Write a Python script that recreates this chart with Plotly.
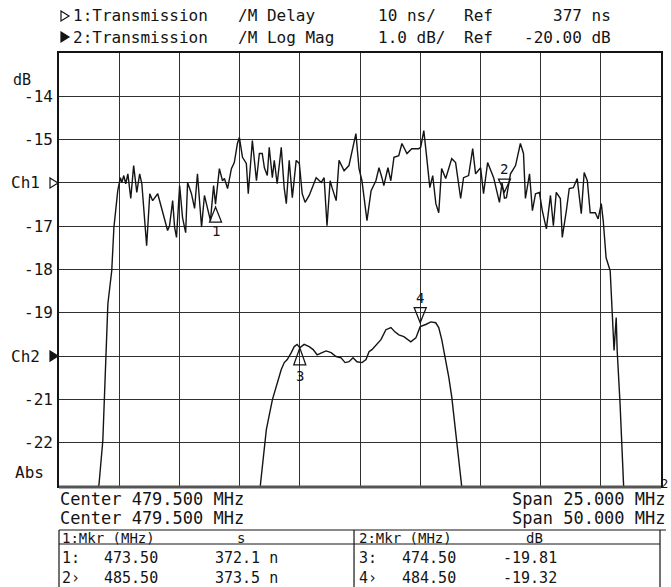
import plotly.graph_objects as go

# ---------------- data ----------------
# Channel 1: Transmission /M Delay (ns), span 25 MHz around 479.5 MHz
ch1_freq_mhz = [468.50, 468.66, 468.82, 468.95, 469.03, 469.19, 469.28, 469.44, 469.55, 469.61,
                469.69, 469.77, 469.86, 469.98, 470.10, 470.23, 470.35, 470.44, 470.52, 470.64,
                470.77, 470.89, 471.10, 471.26, 471.39, 471.51, 471.59, 471.72, 471.80, 471.88,
                472.01, 472.13, 472.26, 472.34, 472.50, 472.63, 472.75, 472.92, 473.04, 473.17,
                473.29, 473.42, 473.50, 473.66, 473.79, 473.87, 474.00, 474.16, 474.28, 474.41,
                474.49, 474.62, 474.78, 474.86, 475.03, 475.20, 475.32, 475.44, 475.53, 475.65,
                475.73, 475.86, 475.94, 476.06, 476.23, 476.35, 476.44, 476.56, 476.69, 476.85,
                476.98, 477.10, 477.22, 477.39, 477.68, 477.89, 478.01, 478.13, 478.26, 478.34,
                478.51, 478.63, 478.84, 479.04, 479.25, 479.33, 479.46, 479.58, 479.79, 479.96,
                480.16, 480.29, 480.41, 480.49, 480.66, 480.78, 480.91, 481.11, 481.24, 481.45,
                481.65, 481.94, 482.02, 482.15, 482.27, 482.40, 482.52, 482.65, 482.77, 482.89,
                483.06, 483.31, 483.47, 483.68, 483.80, 484.01, 484.18, 484.30, 484.51, 484.63,
                484.80, 485.05, 485.29, 485.40, 485.50, 485.58, 485.75, 485.96, 486.16, 486.29,
                486.37, 486.54, 486.66, 486.79, 486.95, 487.07, 487.24, 487.41, 487.53, 487.65,
                487.82, 487.90, 488.07, 488.19, 488.36, 488.52, 488.69, 488.81, 488.94, 489.06,
                489.27, 489.39, 489.52, 489.60, 489.72, 489.89, 489.97, 490.05, 490.14, 490.18,
                490.30, 490.43, 490.51]
ch1_delay_ns = [305.0, 307.3, 317.5, 336.7, 349.1, 356.7, 366.7, 375.2, 378.2, 377.1,
                378.7, 376.8, 379.1, 373.4, 381.0, 374.8, 379.1, 376.8, 371.3, 362.5,
                374.5, 372.9, 374.5, 371.3, 368.3, 366.0, 367.1, 372.9, 366.8, 364.4,
                376.4, 369.0, 365.5, 377.1, 374.5, 371.1, 379.1, 366.8, 374.1, 371.3,
                368.3, 376.4, 372.1, 380.3, 377.5, 378.0, 375.7, 380.3, 381.7, 386.1,
                387.5, 382.9, 381.5, 374.5, 386.8, 377.5, 383.8, 383.8, 380.5, 378.7,
                385.2, 378.2, 382.2, 376.8, 385.2, 375.9, 372.2, 382.2, 373.6, 382.2,
                381.5, 374.5, 372.5, 374.1, 378.2, 377.1, 378.2, 367.1, 377.5, 375.9,
                372.9, 382.2, 379.8, 381.0, 386.1, 388.4, 380.3, 377.5, 368.3, 375.2,
                377.5, 380.5, 378.2, 376.4, 380.5, 377.5, 382.9, 383.3, 386.1, 383.8,
                384.9, 384.9, 385.2, 389.1, 382.9, 375.9, 378.7, 372.2, 370.1, 380.3,
                378.0, 382.6, 381.7, 373.4, 378.2, 378.7, 384.9, 379.1, 380.5, 374.5,
                381.7, 378.2, 372.5, 377.0, 373.5, 373.6, 379.1, 381.0, 386.1, 383.8,
                373.4, 379.1, 370.6, 374.5, 374.8, 370.6, 366.4, 374.1, 367.1, 374.8,
                373.4, 364.4, 370.6, 375.7, 375.9, 378.0, 369.9, 379.4, 377.5, 370.1,
                370.1, 368.7, 372.2, 368.3, 359.7, 356.7, 347.5, 338.3, 345.9, 338.3,
                326.0, 306.7, 299.0]

# Channel 2: Transmission /M Log Mag (dB), span 50 MHz around 479.5 MHz
ch2_freq_mhz = [471.14, 471.72, 472.22, 472.63, 472.96, 473.21, 473.46, 473.79, 474.04, 474.28,
                474.50, 474.86, 475.28, 475.61, 475.94, 476.35, 476.69, 477.10, 477.51, 477.93,
                478.26, 478.59, 478.92, 479.25, 479.67, 480.00, 480.25, 480.49, 480.82, 481.24,
                481.65, 482.07, 482.40, 482.73, 483.14, 483.72, 484.14, 484.50, 484.96, 485.38,
                485.79, 486.04, 486.29, 486.62, 486.87, 487.12, 487.45, 487.70, 487.94, 488.11]
ch2_logmag_db = [-23.20, -21.70, -21.01, -20.61, -20.31, -20.15, -20.08, -19.92, -19.78, -19.73,
                 -19.81, -19.73, -19.78, -19.85, -19.97, -19.92, -19.88, -19.92, -20.01, -20.04,
                 -20.15, -20.13, -20.04, -20.13, -20.15, -20.08, -19.90, -19.85, -19.74, -19.62,
                 -19.39, -19.34, -19.44, -19.51, -19.55, -19.67, -19.58, -19.32, -19.27, -19.21,
                 -19.23, -19.34, -19.62, -20.08, -20.48, -20.94, -21.70, -22.39, -22.99, -23.30]

# Markers
mkr_ch1_id = ["1", "2"]
mkr_ch1_freq = [473.50, 485.50]
mkr_ch1_val = [372.1, 373.5]
mkr_ch2_id = ["3", "4"]
mkr_ch2_freq = [474.50, 484.50]
mkr_ch2_val = [-19.81, -19.32]

# Scales
center_mhz = 479.5
span1_mhz = 25.0
span2_mhz = 50.0
ch1_scale_ns = 10.0
ch1_ref_ns = 377.0
ch2_scale_db = 1.0
ch2_ref_db = -20.0
n_div = 10
ch1_ref_pos = 7   # divisions from bottom
ch2_ref_pos = 3

db_tick_vals = [-14, -15, -16, -17, -18, -19, -20, -21, -22]
db_tick_text = ["-14", "-15", "Ch1", "-17", "-18", "-19", "Ch2", "-21", "-22"]

# ---------------- figure ----------------
FONT = "DejaVu Sans Mono"
INK = "#141414"

x1_range = [center_mhz - span1_mhz / 2, center_mhz + span1_mhz / 2]
x2_range = [center_mhz - span2_mhz / 2, center_mhz + span2_mhz / 2]
y_db_range = [ch2_ref_db - ch2_ref_pos * ch2_scale_db, ch2_ref_db + (n_div - ch2_ref_pos) * ch2_scale_db]
y_ns_range = [ch1_ref_ns - ch1_ref_pos * ch1_scale_ns, ch1_ref_ns + (n_div - ch1_ref_pos) * ch1_scale_ns]

fig = go.Figure()
# channel 1 on x / y (delay), channel 2 on x2 / y2 (log mag)
fig.add_trace(go.Scatter(x=ch1_freq_mhz, y=ch1_delay_ns, xaxis="x", yaxis="y",
                         mode="lines", line=dict(color=INK, width=1.4), showlegend=False,
                         hoverinfo="skip"))
fig.add_trace(go.Scatter(x=ch2_freq_mhz, y=ch2_logmag_db, xaxis="x2", yaxis="y2",
                         mode="lines", line=dict(color=INK, width=1.4), showlegend=False,
                         hoverinfo="skip"))

fig.update_layout(
    width=671, height=587,
    margin=dict(l=59, r=8, t=53, b=101, pad=0),
    paper_bgcolor="white", plot_bgcolor="white",
    xaxis=dict(range=x1_range, tick0=x1_range[0], dtick=span1_mhz / n_div,
               showgrid=True, gridcolor="#303030", gridwidth=1.2,
               showticklabels=False, ticks="", zeroline=False,
               showline=True, linecolor=INK, linewidth=1.5, mirror=True),
    xaxis2=dict(range=x2_range, overlaying="x", anchor="y2", visible=False, showgrid=False),
    yaxis=dict(range=y_ns_range, tick0=y_ns_range[0], dtick=ch1_scale_ns,
               showgrid=True, gridcolor="#303030", gridwidth=1.2,
               showticklabels=False, ticks="", zeroline=False,
               showline=True, linecolor=INK, linewidth=1.5, mirror=True),
    yaxis2=dict(range=y_db_range, overlaying="y", anchor="x2", visible=False, showgrid=False),
    font=dict(family=FONT, color=INK),
)

annotations = []
shapes = []

def txt(x, y, text, size=16, xanchor="left", xref="paper", yref="paper", **kw):
    annotations.append(dict(x=x, y=y, text=text, xref=xref, yref=yref, showarrow=False,
                            xanchor=xanchor, yanchor="middle", borderpad=0,
                            font=dict(family=FONT, size=size, color=INK), **kw))

L, R, T, B = 59, 663, 53, 486
def px(x):
    return (x - L) / (R - L)
def py(y):
    return (B - y) / (B - T)

# left scale labels (dB scale of channel 2)
for v, t in zip(db_tick_vals, db_tick_text):
    if t.startswith("Ch"):
        txt(px(41), v, t, xanchor="right", yref="y2")
    else:
        txt(px(54), v, t, xanchor="right", yref="y2")
txt(px(12), py(80), "dB", size=15)
txt(px(14), py(472), "Abs")

# channel reference arrows on the left edge
shapes.append(dict(type="path", xref="paper", yref="y", xsizemode="pixel", ysizemode="pixel",
                   xanchor=0, yanchor=ch1_ref_ns,
                   path="M-9,5 L-1,0 L-9,-5 Z", line=dict(color=INK, width=1.2), fillcolor="white"))
shapes.append(dict(type="path", xref="paper", yref="y2", xsizemode="pixel", ysizemode="pixel",
                   xanchor=0, yanchor=ch2_ref_db,
                   path="M-9,5 L-1,0 L-9,-5 Z", line=dict(color=INK, width=1.2), fillcolor=INK))

# header
hdr_y1, hdr_y2 = py(16), py(37)
txt(px(72), hdr_y1, "1:Transmission")
txt(px(238), hdr_y1, "/M Delay")
txt(px(378), hdr_y1, "10 ns/")
txt(px(464), hdr_y1, "Ref")
txt(px(614), hdr_y1, "377 ns", xanchor="right")
txt(px(72), hdr_y2, "2:Transmission")
txt(px(238), hdr_y2, "/M Log Mag")
txt(px(378), hdr_y2, "1.0 dB/")
txt(px(464), hdr_y2, "Ref")
txt(px(614), hdr_y2, "-20.00 dB", xanchor="right")
shapes.append(dict(type="path", xref="paper", yref="paper", xsizemode="pixel", ysizemode="pixel",
                   xanchor=px(61), yanchor=hdr_y1, path="M0,5 L8,0 L0,-5 Z",
                   line=dict(color=INK, width=1.2), fillcolor="white"))
shapes.append(dict(type="path", xref="paper", yref="paper", xsizemode="pixel", ysizemode="pixel",
                   xanchor=px(61), yanchor=hdr_y2, path="M0,5 L8,0 L0,-5 Z",
                   line=dict(color=INK, width=1.2), fillcolor=INK))

# thick bottom (traces clamped at bottom of screen)
shapes.append(dict(type="line", xref="paper", yref="paper", x0=0, x1=1, y0=py(487), y1=py(487),
                   line=dict(color="#555", width=3)))

# markers
for mid, f, v in zip(mkr_ch1_id, mkr_ch1_freq, mkr_ch1_val):
    if mid == "1":
        path = "M0,-3 L-6,-18 L6,-18 Z"; ys = -27
    else:
        path = "M0,6 L-6,19 L6,19 Z"; ys = 29
    shapes.append(dict(type="path", xref="x", yref="y", xsizemode="pixel", ysizemode="pixel",
                       xanchor=f, yanchor=v, path=path, line=dict(color=INK, width=1.3)))
    txt(f, v, mid, size=14, xanchor="center", xref="x", yref="y", yshift=ys)
for mid, f, v in zip(mkr_ch2_id, mkr_ch2_freq, mkr_ch2_val):
    if mid == "3":
        path = "M0,0 L-6,-17 L6,-17 Z"; ys = -28
    else:
        path = "M0,4 L-6,19 L6,19 Z"; ys = 29
    shapes.append(dict(type="path", xref="x2", yref="y2", xsizemode="pixel", ysizemode="pixel",
                       xanchor=f, yanchor=v, path=path, line=dict(color=INK, width=1.3)))
    txt(f, v, mid, size=14, xanchor="center", xref="x2", yref="y2", yshift=ys)

# footer
txt(px(59), py(499), "Center 479.500 MHz", size=17)
txt(px(669), py(499), "Span 25.000 MHz", size=17, xanchor="right")
txt(px(59), py(518), "Center 479.500 MHz", size=17)
txt(px(669), py(518), "Span 50.000 MHz", size=17, xanchor="right")
txt(px(667), py(484), "2", size=12, xanchor="center")

# marker table
def hline(x0, x1, y, w=1.2):
    shapes.append(dict(type="line", xref="paper", yref="paper", x0=px(x0), x1=px(x1),
                       y0=py(y), y1=py(y), line=dict(color=INK, width=w)))
def vline(x, y0, y1, w=1.2):
    shapes.append(dict(type="line", xref="paper", yref="paper", x0=px(x), x1=px(x),
                       y0=py(y0), y1=py(y1), line=dict(color=INK, width=w)))
hline(59, 668, 530)
hline(59, 662, 544)
vline(59, 530, 590)
vline(355, 530, 590)
vline(662, 530, 590)

row_y = [538, 558, 578]
txt(px(61), py(row_y[0]), "1:Mkr (MHz)", size=14)
txt(px(237), py(row_y[0]), "s", size=14)
txt(px(359), py(row_y[0]), "2:Mkr (MHz)", size=14)
txt(px(527), py(row_y[0]), "dB", size=14)
ch1_fmt = [f"{v:.1f} n" for v in mkr_ch1_val]
ch2_fmt = [f"{v:.2f}" for v in mkr_ch2_val]
lead1 = ["1:", "2›"]
lead2 = ["3:", "4›"]
for i in range(2):
    yy = py(row_y[i + 1])
    txt(px(61), yy, lead1[i], size=15)
    txt(px(103), yy, f"{mkr_ch1_freq[i]:.2f}", size=15)
    txt(px(215), yy, ch1_fmt[i], size=15)
    txt(px(359), yy, lead2[i], size=15)
    txt(px(402), yy, f"{mkr_ch2_freq[i]:.2f}", size=15)
    txt(px(503), yy, ch2_fmt[i], size=15)

fig.update_layout(annotations=annotations, shapes=shapes)
fig.write_html("out.html", config={"displayModeBar": False},
               post_script="document.body.style.margin='0';document.body.style.overflow='hidden';")
